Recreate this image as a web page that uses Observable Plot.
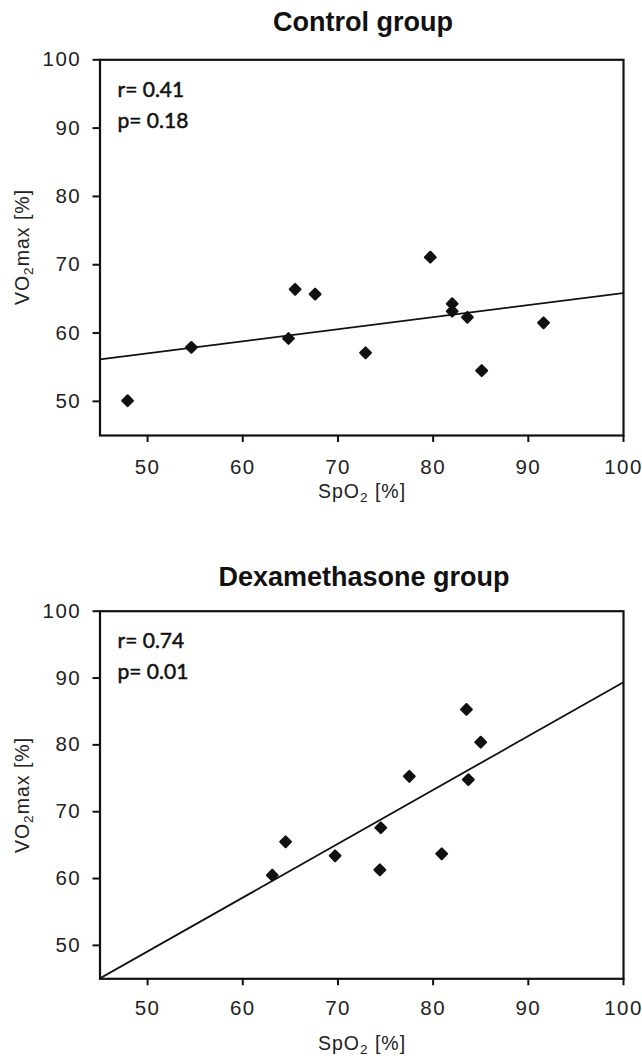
<!DOCTYPE html>
<html>
<head>
<meta charset="utf-8">
<script src="https://cdn.jsdelivr.net/npm/d3@7"></script>
<script src="https://cdn.jsdelivr.net/npm/@observablehq/plot@0.6"></script>
<style>
  html, body { margin: 0; padding: 0; background: #fff; }
  #page { position: relative; width: 642px; height: 1061px; overflow: hidden; font-family: "Liberation Sans", Arial, sans-serif; color: #111; }
  .title { position: absolute; width: 400px; margin-left: -200px; text-align: center; font-weight: bold; font-size: 27px; line-height: 27px; white-space: nowrap; }
  .xlab, .ylab { position: absolute; font-size: 19.5px; letter-spacing: 1px; white-space: nowrap; color: #222; }
  .xlab { transform: translate(-50%, -50%); }
  .ylab { transform: translate(-50%, -50%) rotate(-90deg); }
  sub { font-size: 0.7em; vertical-align: -0.3em; line-height: 0; }
  .panel { position: absolute; left: 0; }
  .panel svg g[aria-label="x-axis tick label"] text,
  .panel svg g[aria-label="y-axis tick label"] text { font-size: 20.5px; letter-spacing: 1.4px; }
</style>
</head>
<body>
<div id="page"></div>
<script>
// ---- data ----
const panelTitles = ["Control group", "Dexamethasone group"];
const controlSpO2 = [47.9, 54.6, 64.8, 65.5, 67.6, 72.9, 79.7, 82.0, 82.0, 83.6, 85.1, 91.6];
const controlVO2  = [50.1, 57.9, 59.2, 66.4, 65.7, 57.1, 71.1, 64.3, 63.2, 62.3, 54.5, 61.5];
const dexaSpO2 = [63.1, 64.5, 69.7, 74.5, 74.4, 77.5, 80.9, 83.5, 83.7, 85.0];
const dexaVO2  = [60.5, 65.5, 63.4, 67.6, 61.3, 75.3, 63.7, 85.3, 74.8, 80.4];
const rLabels = ["r= 0.41", "r= 0.74"];
const pLabels = ["p= 0.18", "p= 0.01"];
const xTicks = [50, 60, 70, 80, 90, 100];
const yTicks = [50, 60, 70, 80, 90, 100];
const xDomain = [45, 100];
const yDomain = [45, 100];

function regression(xs, ys) {
  const mx = d3.mean(xs), my = d3.mean(ys);
  const sxy = d3.sum(xs, (x, i) => (x - mx) * (ys[i] - my));
  const sxx = d3.sum(xs, x => (x - mx) ** 2);
  const b = sxy / sxx;
  return x => my + b * (x - mx);
}

const page = document.getElementById("page");

function panel(cfg) {
  const pts = cfg.xs.map((x, i) => ({x, y: cfg.ys[i]}));
  const f = regression(cfg.xs, cfg.ys);
  const fitLine = xDomain.map(x => ({x, y: f(x)}));
  const statFont = {textAnchor: "start", lineAnchor: "middle", fontSize: 21, fontFamily: "Lato, 'Open Sans', sans-serif", fontWeight: 400, fill: "#111", stroke: "#111", strokeWidth: 0.5};
  const plot = Plot.plot({
    width: 642,
    height: cfg.height,
    marginLeft: 99.5,
    marginRight: 19,
    marginTop: cfg.marginTop,
    marginBottom: cfg.marginBottom,
    style: {fontFamily: "'Liberation Sans', Arial, sans-serif", fontSize: "20px", color: "#222", background: "transparent"},
    x: {domain: xDomain},
    y: {domain: yDomain},
    marks: [
      Plot.line(fitLine, {x: "x", y: "y", stroke: "#111", strokeWidth: 1.8, clip: true}),
      Plot.dot(pts, {x: "x", y: "y", symbol: "diamond2", r: 4.8, fill: "#111", stroke: "#111", strokeWidth: 2.2, strokeLinejoin: "round"}),
      Plot.frame({stroke: "#111", strokeWidth: 2.2}),
      Plot.axisX({ticks: xTicks, tickSize: 7, tickPadding: cfg.xPad, fontSize: 20.5, label: null, strokeWidth: 2, stroke: "#111", fill: "#222"}),
      Plot.axisY({ticks: yTicks, tickSize: 7, tickPadding: 12, fontSize: 20.5, label: null, strokeWidth: 2, stroke: "#111", fill: "#222"}),
      Plot.text([cfg.r], {...statFont, frameAnchor: "top-left", text: d => d, dx: 17.5, dy: 30}),
      Plot.text([cfg.p], {...statFont, frameAnchor: "top-left", text: d => d, dx: 17.5, dy: 61.5})
    ]
  });
  const wrap = document.createElement("div");
  wrap.className = "panel";
  wrap.style.top = cfg.top + "px";
  wrap.appendChild(plot);
  page.appendChild(wrap);

  const t = document.createElement("div");
  t.className = "title";
  t.style.left = cfg.titleX + "px";
  t.style.top = cfg.titleTop + "px";
  t.textContent = cfg.title;
  page.appendChild(t);

  const xl = document.createElement("div");
  xl.className = "xlab";
  xl.style.left = "362px";
  xl.style.top = cfg.xLabelY + "px";
  xl.innerHTML = "SpO<sub>2</sub> [%]";
  page.appendChild(xl);

  const yl = document.createElement("div");
  yl.className = "ylab";
  yl.style.left = "22px";
  yl.style.top = cfg.yLabelY + "px";
  yl.innerHTML = "VO<sub>2</sub>max [%]";
  page.appendChild(yl);
}

panel({xs: controlSpO2, ys: controlVO2, r: rLabels[0], p: pLabels[0], title: panelTitles[0],
  top: 40, height: 490, marginTop: 19.3, marginBottom: 95, xPad: 17,
  titleX: 363, titleTop: 9, xLabelY: 491, yLabelY: 247});
panel({xs: dexaSpO2, ys: dexaVO2, r: rLabels[1], p: pLabels[1], title: panelTitles[1],
  top: 590, height: 471, marginTop: 20.7, marginBottom: 82.7, xPad: 15,
  titleX: 364, titleTop: 564, xLabelY: 1043, yLabelY: 795});
</script>
</body>
</html>
